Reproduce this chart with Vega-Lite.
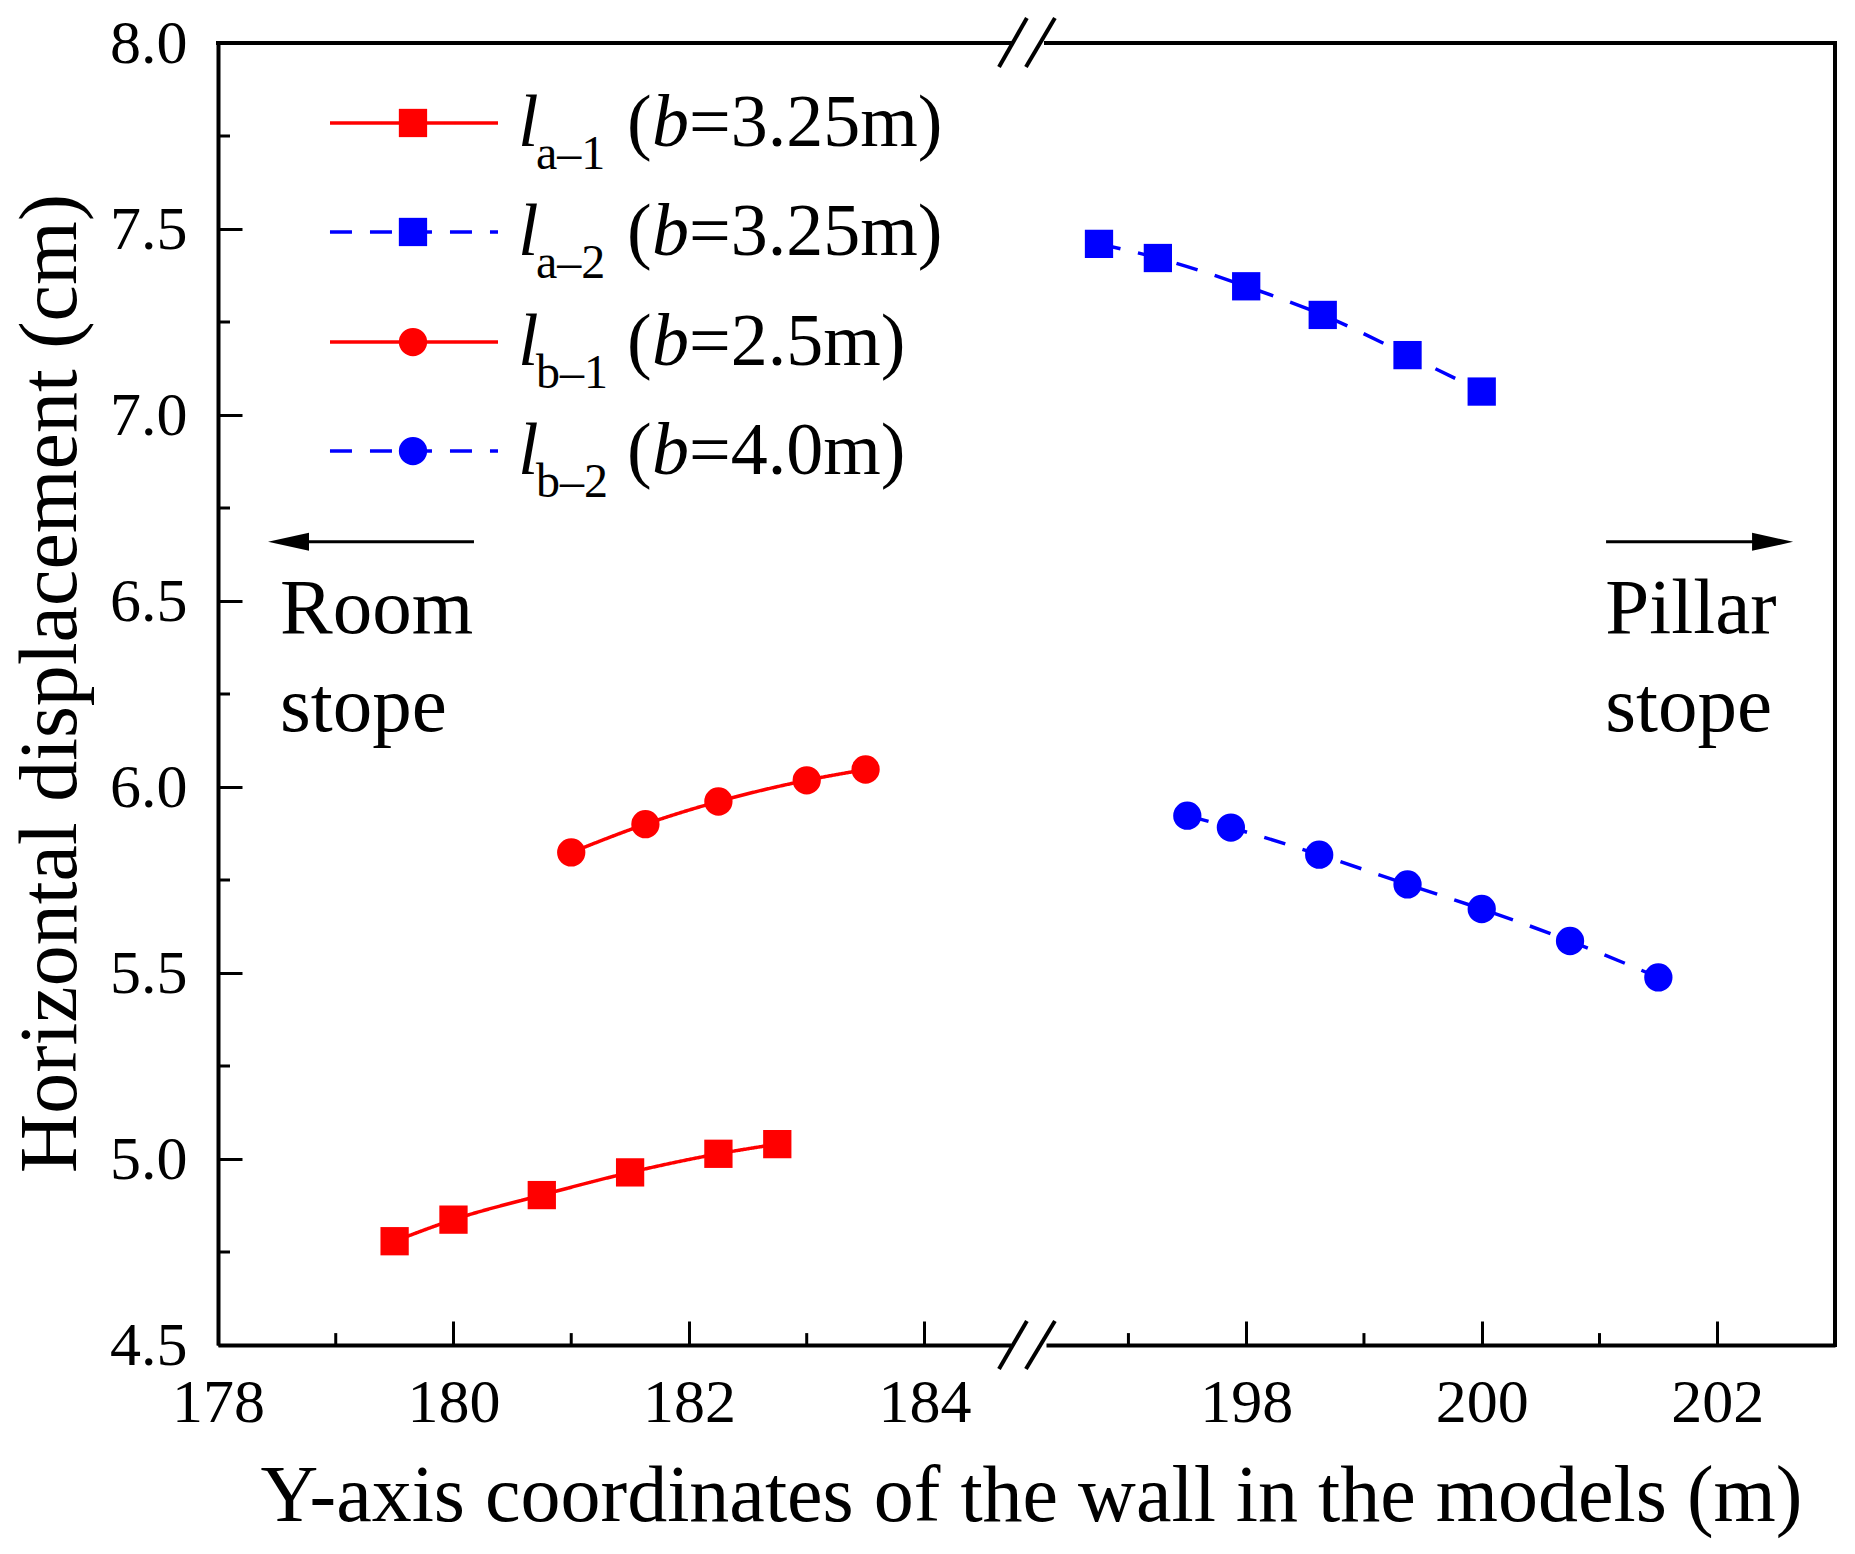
{
  "$schema": "https://vega.github.io/schema/vega-lite/v6.json",
  "background": "white",
  "padding": {"left": 9, "top": 12, "right": 10, "bottom": 10},
  "config": {
    "view": {"stroke": null},
    "font": "Liberation Serif",
    "axis": {
      "labelFont": "Liberation Serif",
      "titleFont": "Liberation Serif",
      "labelColor": "black",
      "titleColor": "black",
      "domainColor": "black",
      "tickColor": "black",
      "domainWidth": 4,
      "tickWidth": 3,
      "grid": false,
      "titleFontWeight": "normal",
      "labelFlush": false
    }
  },
  "datasets": {
    "series": [
      {"series": "la-1", "x": 179.5, "y": 4.779},
      {"series": "la-1", "x": 180.0, "y": 4.837},
      {"series": "la-1", "x": 180.75, "y": 4.903},
      {"series": "la-1", "x": 181.5, "y": 4.964},
      {"series": "la-1", "x": 182.25, "y": 5.014},
      {"series": "la-1", "x": 182.75, "y": 5.04},
      {"series": "lb-1", "x": 181.0, "y": 5.824},
      {"series": "lb-1", "x": 181.63, "y": 5.9},
      {"series": "lb-1", "x": 182.25, "y": 5.961},
      {"series": "lb-1", "x": 183.0, "y": 6.018},
      {"series": "lb-1", "x": 183.5, "y": 6.047},
      {"series": "la-2", "x": 196.75, "y": 7.46},
      {"series": "la-2", "x": 197.25, "y": 7.422},
      {"series": "la-2", "x": 198.0, "y": 7.346},
      {"series": "la-2", "x": 198.65, "y": 7.269},
      {"series": "la-2", "x": 199.37, "y": 7.161},
      {"series": "la-2", "x": 200.0, "y": 7.063},
      {"series": "lb-2", "x": 197.5, "y": 5.923},
      {"series": "lb-2", "x": 197.87, "y": 5.891},
      {"series": "lb-2", "x": 198.62, "y": 5.818},
      {"series": "lb-2", "x": 199.37, "y": 5.738},
      {"series": "lb-2", "x": 200.0, "y": 5.672},
      {"series": "lb-2", "x": 200.75, "y": 5.586},
      {"series": "lb-2", "x": 201.5, "y": 5.488}
    ],
    "legend": [
      {"series": "la-1", "ly": 7.785, "sub": "a–1", "rest": "=3.25m)"},
      {"series": "la-2", "ly": 7.492, "sub": "a–2", "rest": "=3.25m)"},
      {"series": "lb-1", "ly": 7.196, "sub": "b–1", "rest": "=2.5m)"},
      {"series": "lb-2", "ly": 6.903, "sub": "b–2", "rest": "=4.0m)"}
    ],
    "minorX": [{"v": 179}, {"v": 181}, {"v": 183}, {"v": 197}, {"v": 199}, {"v": 201}],
    "minorY": [{"v": 4.75}, {"v": 5.25}, {"v": 5.75}, {"v": 6.25}, {"v": 6.75}, {"v": 7.25}, {"v": 7.75}],
    "breaks": [
      {"x1": 184.633, "y1": 4.4355, "x2": 184.87, "y2": 4.5645},
      {"x1": 184.862, "y1": 4.4355, "x2": 185.108, "y2": 4.5645},
      {"x1": 184.633, "y1": 7.9355, "x2": 184.87, "y2": 8.0672},
      {"x1": 184.862, "y1": 7.9355, "x2": 185.108, "y2": 8.0672}
    ],
    "one": [{}]
  },
  "spacing": 35,
  "bounds": "flush",
  "resolve": {"scale": {"x": "independent"}},
  "hconcat": [
    {
      "width": 793,
      "height": 1302,
      "layer": [
        {
          "data": {"name": "series"},
          "transform": [{"filter": "datum.series == 'la-1' || datum.series == 'lb-1'"}],
          "mark": {"type": "line", "interpolate": "monotone", "strokeWidth": 3.5},
          "encoding": {
            "x": {
              "field": "x", "type": "quantitative",
              "scale": {"domain": [178, 184.735], "nice": false, "zero": false},
              "axis": {
                "values": [178, 180, 182, 184], "format": "d", "tickSize": -24, "labelFontSize": 62, "labelPadding": 51,
                "title": "Y-axis coordinates of the wall in the models (m)", "titleFontSize": 80,
                "titleX": 813, "titleY": 175, "titleBaseline": "alphabetic", "titleAlign": "center"
              }
            },
            "y": {
              "field": "y", "type": "quantitative",
              "scale": {"domain": [4.5, 8], "nice": false, "zero": false},
              "axis": {
                "values": [4.5, 5, 5.5, 6, 6.5, 7, 7.5, 8], "format": ".1f", "tickSize": -24,
                "labelFontSize": 62, "labelPadding": 55,
                "title": "Horizontal displacement (cm)", "titleFontSize": 82,
                "titleX": -143, "titleY": 640, "titleBaseline": "alphabetic"
              }
            },
            "color": {"field": "series", "type": "nominal", "scale": {"domain": ["la-1", "la-2", "lb-1", "lb-2"], "range": ["#ff0000", "#0000ff", "#ff0000", "#0000ff"]}, "legend": null},
            "strokeDash": {"field": "series", "type": "nominal", "scale": {"domain": ["la-1", "la-2", "lb-1", "lb-2"], "range": [[1, 0], [22, 18], [1, 0], [22, 18]]}, "legend": null}
          }
        },
        {
          "data": {"name": "series"},
          "transform": [{"filter": "datum.series == 'la-1' || datum.series == 'lb-1'"}],
          "mark": {"type": "point", "filled": true, "opacity": 1},
          "encoding": {
            "x": {"field": "x", "type": "quantitative"},
            "y": {"field": "y", "type": "quantitative"},
            "color": {"field": "series", "type": "nominal", "scale": {"domain": ["la-1", "la-2", "lb-1", "lb-2"], "range": ["#ff0000", "#0000ff", "#ff0000", "#0000ff"]}, "legend": null},
            "shape": {"field": "series", "type": "nominal", "scale": {"domain": ["la-1", "la-2", "lb-1", "lb-2"], "range": ["square", "square", "circle", "circle"]}, "legend": null},
            "size": {"field": "series", "type": "nominal", "scale": {"domain": ["la-1", "la-2", "lb-1", "lb-2"], "range": [800, 800, 950, 950]}, "legend": null}
          }
        },
        {
          "data": {"name": "one"},
          "mark": {"type": "rule", "strokeWidth": 4, "color": "black", "strokeCap": "square"},
          "encoding": {
            "x": {"datum": 178, "type": "quantitative"},
            "x2": {"datum": 184.735},
            "y": {"datum": 8, "type": "quantitative"}
          }
        },
        {
          "data": {"name": "minorX"},
          "transform": [{"filter": "datum.v < 190"}],
          "mark": {"type": "rule", "strokeWidth": 3, "color": "black"},
          "encoding": {
            "x": {"field": "v", "type": "quantitative"},
            "y": {"datum": 4.5, "type": "quantitative"},
            "y2": {"datum": 4.532}
          }
        },
        {
          "data": {"name": "minorY"},
          "mark": {"type": "rule", "strokeWidth": 3, "color": "black"},
          "encoding": {
            "y": {"field": "v", "type": "quantitative"},
            "x": {"datum": 178, "type": "quantitative"},
            "x2": {"datum": 178.102}
          }
        },
        {
          "data": {"name": "breaks"},
          "mark": {"type": "rule", "strokeWidth": 4, "color": "black"},
          "encoding": {
            "x": {"field": "x1", "type": "quantitative"},
            "x2": {"field": "x2"},
            "y": {"field": "y1", "type": "quantitative"},
            "y2": {"field": "y2"}
          }
        },
        {
          "data": {"name": "legend"},
          "mark": {"type": "rule", "strokeWidth": 3.5},
          "encoding": {
            "x": {"datum": 178.951, "type": "quantitative"},
            "x2": {"datum": 180.378},
            "y": {"field": "ly", "type": "quantitative"},
            "color": {"field": "series", "type": "nominal", "scale": {"domain": ["la-1", "la-2", "lb-1", "lb-2"], "range": ["#ff0000", "#0000ff", "#ff0000", "#0000ff"]}, "legend": null},
            "strokeDash": {"field": "series", "type": "nominal", "scale": {"domain": ["la-1", "la-2", "lb-1", "lb-2"], "range": [[1, 0], [22, 18], [1, 0], [22, 18]]}, "legend": null}
          }
        },
        {
          "data": {"name": "legend"},
          "mark": {"type": "point", "filled": true, "opacity": 1},
          "encoding": {
            "x": {"datum": 179.656, "type": "quantitative"},
            "y": {"field": "ly", "type": "quantitative"},
            "color": {"field": "series", "type": "nominal", "scale": {"domain": ["la-1", "la-2", "lb-1", "lb-2"], "range": ["#ff0000", "#0000ff", "#ff0000", "#0000ff"]}, "legend": null},
            "shape": {"field": "series", "type": "nominal", "scale": {"domain": ["la-1", "la-2", "lb-1", "lb-2"], "range": ["square", "square", "circle", "circle"]}, "legend": null},
            "size": {"field": "series", "type": "nominal", "scale": {"domain": ["la-1", "la-2", "lb-1", "lb-2"], "range": [800, 800, 950, 950]}, "legend": null}
          }
        },
        {
          "data": {"name": "legend"},
          "mark": {"type": "text", "text": "l", "fontStyle": "italic", "fontSize": 74, "align": "left", "baseline": "alphabetic", "dy": 23, "color": "black"},
          "encoding": {
            "x": {"datum": 180.548, "type": "quantitative"},
            "y": {"field": "ly", "type": "quantitative"}
          }
        },
        {
          "data": {"name": "legend"},
          "mark": {"type": "text", "fontSize": 48, "align": "left", "baseline": "alphabetic", "dx": 18, "dy": 46, "color": "black"},
          "encoding": {
            "x": {"datum": 180.548, "type": "quantitative"},
            "y": {"field": "ly", "type": "quantitative"},
            "text": {"field": "sub"}
          }
        },
        {
          "data": {"name": "legend"},
          "mark": {"type": "text", "text": "(", "fontSize": 74, "align": "left", "baseline": "alphabetic", "dx": 109, "dy": 23, "color": "black"},
          "encoding": {
            "x": {"datum": 180.548, "type": "quantitative"},
            "y": {"field": "ly", "type": "quantitative"}
          }
        },
        {
          "data": {"name": "legend"},
          "mark": {"type": "text", "text": "b", "fontStyle": "italic", "fontSize": 74, "align": "left", "baseline": "alphabetic", "dx": 134, "dy": 23, "color": "black"},
          "encoding": {
            "x": {"datum": 180.548, "type": "quantitative"},
            "y": {"field": "ly", "type": "quantitative"}
          }
        },
        {
          "data": {"name": "legend"},
          "mark": {"type": "text", "fontSize": 74, "align": "left", "baseline": "alphabetic", "dx": 171, "dy": 23, "color": "black"},
          "encoding": {
            "x": {"datum": 180.548, "type": "quantitative"},
            "y": {"field": "ly", "type": "quantitative"},
            "text": {"field": "rest"}
          }
        },
        {
          "data": {"name": "one"},
          "mark": {"type": "text", "text": ["Room", "stope"], "fontSize": 79, "lineHeight": 98, "align": "left", "baseline": "alphabetic", "color": "black"},
          "encoding": {
            "x": {"datum": 178.527, "type": "quantitative"},
            "y": {"datum": 6.414, "type": "quantitative"}
          }
        },
        {
          "data": {"name": "one"},
          "mark": {"type": "rule", "strokeWidth": 3, "color": "black"},
          "encoding": {
            "x": {"datum": 178.599, "type": "quantitative"},
            "x2": {"datum": 180.174},
            "y": {"datum": 6.659, "type": "quantitative"}
          }
        },
        {
          "data": {"name": "one"},
          "mark": {"type": "point", "shape": "M -1 0 L 1 -0.44 L 1 0.44 Z", "size": 1681, "filled": true, "opacity": 1, "color": "black", "strokeWidth": 0},
          "encoding": {
            "x": {"datum": 178.599, "type": "quantitative"},
            "y": {"datum": 6.659, "type": "quantitative"}
          }
        }
      ]
    },
    {
      "width": 789,
      "height": 1302,
      "layer": [
        {
          "data": {"name": "series"},
          "transform": [{"filter": "datum.series == 'la-2' || datum.series == 'lb-2'"}],
          "mark": {"type": "line", "interpolate": "monotone", "strokeWidth": 3.5},
          "encoding": {
            "x": {
              "field": "x", "type": "quantitative",
              "scale": {"domain": [196.3, 203], "nice": false, "zero": false},
              "axis": {"values": [198, 200, 202], "format": "d", "tickSize": -24, "labelFontSize": 62, "labelPadding": 51, "title": null}
            },
            "y": {"field": "y", "type": "quantitative", "scale": {"domain": [4.5, 8], "nice": false, "zero": false}, "axis": null},
            "color": {"field": "series", "type": "nominal", "scale": {"domain": ["la-1", "la-2", "lb-1", "lb-2"], "range": ["#ff0000", "#0000ff", "#ff0000", "#0000ff"]}, "legend": null},
            "strokeDash": {"field": "series", "type": "nominal", "scale": {"domain": ["la-1", "la-2", "lb-1", "lb-2"], "range": [[1, 0], [22, 18], [1, 0], [22, 18]]}, "legend": null}
          }
        },
        {
          "data": {"name": "series"},
          "transform": [{"filter": "datum.series == 'la-2' || datum.series == 'lb-2'"}],
          "mark": {"type": "point", "filled": true, "opacity": 1},
          "encoding": {
            "x": {"field": "x", "type": "quantitative"},
            "y": {"field": "y", "type": "quantitative", "axis": null},
            "color": {"field": "series", "type": "nominal", "scale": {"domain": ["la-1", "la-2", "lb-1", "lb-2"], "range": ["#ff0000", "#0000ff", "#ff0000", "#0000ff"]}, "legend": null},
            "shape": {"field": "series", "type": "nominal", "scale": {"domain": ["la-1", "la-2", "lb-1", "lb-2"], "range": ["square", "square", "circle", "circle"]}, "legend": null},
            "size": {"field": "series", "type": "nominal", "scale": {"domain": ["la-1", "la-2", "lb-1", "lb-2"], "range": [800, 800, 950, 950]}, "legend": null}
          }
        },
        {
          "data": {"name": "one"},
          "mark": {"type": "rule", "strokeWidth": 4, "color": "black", "strokeCap": "square"},
          "encoding": {
            "x": {"datum": 196.3, "type": "quantitative"},
            "x2": {"datum": 203},
            "y": {"datum": 8, "type": "quantitative", "axis": null}
          }
        },
        {
          "data": {"name": "one"},
          "mark": {"type": "rule", "strokeWidth": 4, "color": "black", "strokeCap": "square"},
          "encoding": {
            "x": {"datum": 203, "type": "quantitative"},
            "y": {"datum": 4.5, "type": "quantitative", "axis": null},
            "y2": {"datum": 8}
          }
        },
        {
          "data": {"name": "minorX"},
          "transform": [{"filter": "datum.v > 190"}],
          "mark": {"type": "rule", "strokeWidth": 3, "color": "black"},
          "encoding": {
            "x": {"field": "v", "type": "quantitative"},
            "y": {"datum": 4.5, "type": "quantitative", "axis": null},
            "y2": {"datum": 4.532}
          }
        },
        {
          "data": {"name": "one"},
          "mark": {"type": "text", "text": ["Pillar", "stope"], "fontSize": 79, "lineHeight": 98, "align": "left", "baseline": "alphabetic", "color": "black"},
          "encoding": {
            "x": {"datum": 201.05, "type": "quantitative"},
            "y": {"datum": 6.414, "type": "quantitative", "axis": null}
          }
        },
        {
          "data": {"name": "one"},
          "mark": {"type": "rule", "strokeWidth": 3, "color": "black"},
          "encoding": {
            "x": {"datum": 201.056, "type": "quantitative"},
            "x2": {"datum": 202.47},
            "y": {"datum": 6.659, "type": "quantitative", "axis": null}
          }
        },
        {
          "data": {"name": "one"},
          "mark": {"type": "point", "shape": "M 1 0 L -1 -0.44 L -1 0.44 Z", "size": 1681, "filled": true, "opacity": 1, "color": "black", "strokeWidth": 0},
          "encoding": {
            "x": {"datum": 202.47, "type": "quantitative"},
            "y": {"datum": 6.659, "type": "quantitative", "axis": null}
          }
        }
      ]
    }
  ]
}
